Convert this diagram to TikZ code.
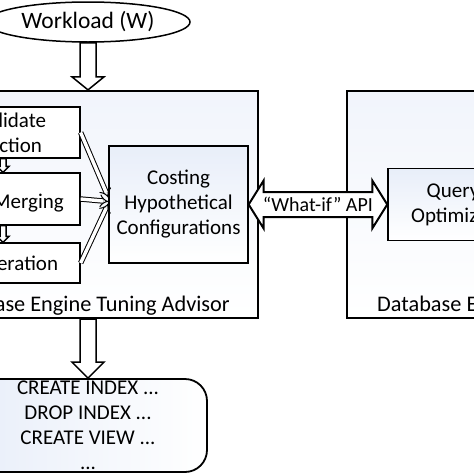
\documentclass[tikz,border=0pt]{standalone}
\usepackage{fontspec}
\setmainfont{Carlito}
\usetikzlibrary{calc,shapes.geometric,arrows.meta}
\definecolor{pale}{RGB}{232,238,249}
\newcommand\blockdown[5]{% start, tip, shaft half width, head half width, head length
  \draw[blockarrow] ($(#1)+(-#3,0)$) -- ($(#2)+(-#3,-#5)$) -- ($(#2)+(-#4,-#5)$) -- (#2)
    -- ($(#2)+(#4,-#5)$) -- ($(#2)+(#3,-#5)$) -- ($(#1)+(#3,0)$) -- cycle;}
\begin{document}
\begin{tikzpicture}[x=1pt,y=-1pt,
  every node/.style={font=\fontsize{21}{25}\selectfont, align=center, inner sep=0pt},
  bigbox/.style={draw, line width=2.2pt, top color=pale!60!white, bottom color=white},
  innerbox/.style={draw, line width=1.3pt, fill=white},
  shadedbox/.style={draw, line width=1.3pt, top color=pale, bottom color=white},
  blockarrow/.style={draw, line width=1.5pt, fill=white, line join=miter},
  thinarrow/.style={double=white, double distance=3.4pt, line width=1pt, -{Implies}},
  txt/.style={}
]
\useasboundingbox (0,0) rectangle (474,474);
% big containers
\node[bigbox, minimum width=348pt, minimum height=227pt] (dta) at (84,204.5) {};
\node[bigbox, minimum width=253pt, minimum height=227pt] (db) at (473.5,204.5) {};
\node[txt, anchor=base east, font=\fontsize{22.3}{26}\selectfont] (dtalab) at (230,311) {Database Engine Tuning Advisor};
\node[txt, anchor=base west, font=\fontsize{22.3}{26}\selectfont] (dblab) at (377,311) {Database Engine};
% workload
\node[ellipse, draw, line width=1.5pt, fill=white, minimum width=204pt, minimum height=40pt,
      font=\fontsize{23.5}{27}\selectfont] (wl) at (88,22) {Workload (W)};
% inner boxes
\node[innerbox, minimum width=154pt, minimum height=51pt] (cand) at (3,132.5) {Candidate\\Selection};
\node[innerbox, minimum width=154pt, minimum height=52pt] (merg) at (3,199) {};
\node[txt, anchor=base east] (mergtxt) at (64,208) {Merging};
\node[innerbox, minimum width=154pt, minimum height=40pt] (enum) at (3,263) {Enumeration};
\node[shadedbox, minimum width=139pt, minimum height=117pt] (cost) at (178.5,204.5) {Costing\\Hypothetical\\Configurations};
\node[shadedbox, line width=1.5pt, minimum width=130pt, minimum height=72pt] (qo) at (453,204.5) {Query\\Optimizer};
% output
\node[draw, line width=1.8pt, rounded corners=22pt, left color=pale, right color=white,
      minimum width=238pt, minimum height=93pt] (out) at (88,425.5)
      {CREATE INDEX ...\\DROP INDEX ...\\CREATE VIEW ...\\...};
% block arrows
\blockdown{wl.south}{wl.south |- dta.north}{8}{16}{13}
\blockdown{out.north |- dta.south}{out.north}{8}{16}{16}
\blockdown{cand.south}{merg.north}{3}{6}{6}
\blockdown{merg.south}{enum.north}{3}{6}{6}
% converging arrows
\draw[thinarrow] (cand.east) -- ($(cost.west)+(0,-7)$);
\draw[thinarrow] (merg.east) -- ($(cost.west)+(0,-3)$);
\draw[thinarrow] (enum.east) -- ($(cost.west)+(0,-1)$);
% what-if double arrow
\draw[blockarrow, line width=2pt] (cost.east) -- ($(cost.east)+(15,-24)$) -- ($(cost.east)+(15,-12.5)$)
  -- ($(qo.west)+(-15,-12.5)$) -- ($(qo.west)+(-15,-24)$) -- (qo.west)
  -- ($(qo.west)+(-15,24)$) -- ($(qo.west)+(-15,12.5)$) -- ($(cost.east)+(15,12.5)$)
  -- ($(cost.east)+(15,24)$) -- cycle;
\node[txt, font=\fontsize{20}{24}\selectfont] (wif) at ($(cost.east)!0.5!(qo.west)$) {“What-if” API};
\end{tikzpicture}
\end{document}
